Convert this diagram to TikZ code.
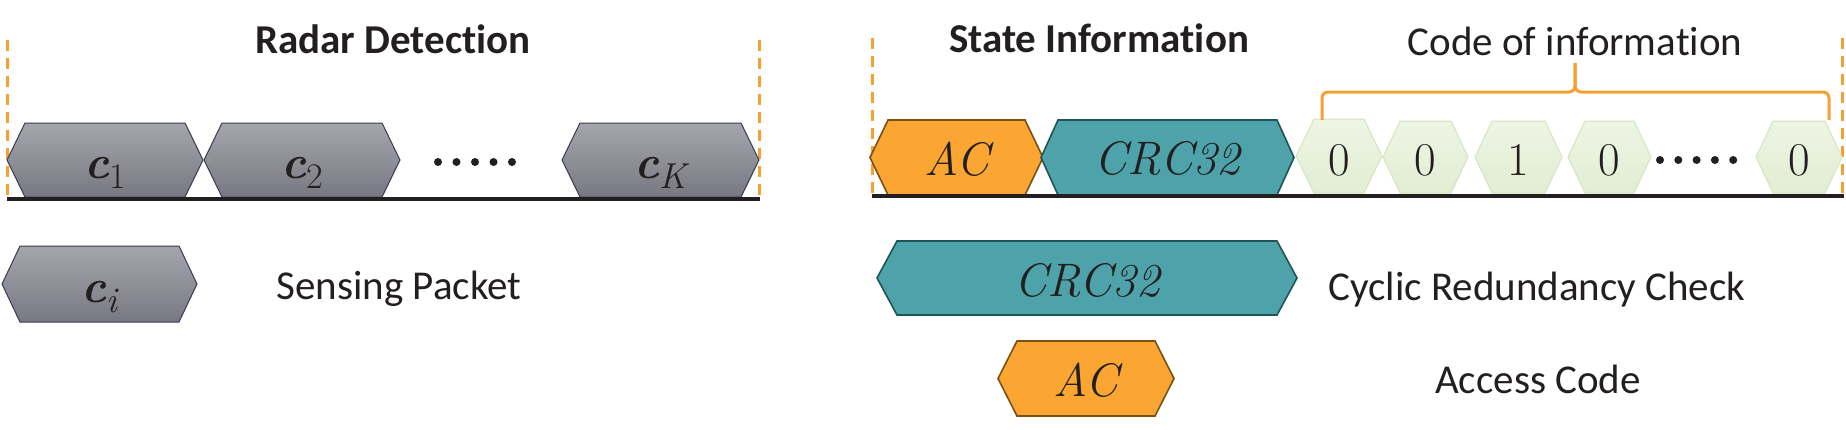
\documentclass[tikz,border=0pt]{standalone}
\usepackage{fontspec}
\setmainfont{Carlito}[Ligatures=NoCommon]
\newfontfamily\lmr{Latin Modern Roman}
\definecolor{grayTop}{HTML}{A5A6AC}
\definecolor{grayBot}{HTML}{787882}
\definecolor{grayBorder}{HTML}{3A3A55}
\definecolor{orangeFill}{HTML}{FBA532}
\definecolor{orangeBorder}{HTML}{7A5014}
\definecolor{tealFill}{HTML}{4EA2A9}
\definecolor{tealBorder}{HTML}{1F5556}
\definecolor{greenTop}{HTML}{EEF5E4}
\definecolor{greenBot}{HTML}{E2EDD3}
\definecolor{greenBorder}{HTML}{D3E5BE}
\definecolor{dashOrange}{HTML}{F7A030}
\definecolor{groundCol}{HTML}{231F20}
\definecolor{textCol}{HTML}{231F20}
\newcommand{\hexnode}[9]{%
  \path[#2] (#3,{(#5+#6)/2}) -- ({#3+#7},#5) -- ({#4-#7},#5) -- (#4,{(#5+#6)/2}) -- ({#4-#7},#6) -- ({#3+#7},#6) -- cycle;
  \node[lbl] (#1) at ({(#3+#4)/2},#8) {#9};
}
\newcommand{\vecsub}[2]{{\bfseries\itshape c}\raisebox{-10pt}{\fontsize{36}{40}\selectfont #1#2}}
\tikzset{
  hexgray/.style={draw=grayBorder, line width=1pt, top color=grayTop, bottom color=grayBot},
  hexorange/.style={draw=orangeBorder, line width=1.6pt, fill=orangeFill},
  hexteal/.style={draw=tealBorder, line width=1.6pt, fill=tealFill},
  hexgreen/.style={draw=greenBorder, line width=1pt, top color=greenTop, bottom color=greenBot},
  lbl/.style={inner sep=0pt, anchor=base, text=textCol, font=\lmr\fontsize{47}{52}\selectfont},
  titletext/.style={inner sep=0pt, anchor=base, text=textCol, font=\fontsize{41}{48}\selectfont\bfseries},
  desctext/.style={inner sep=0pt, anchor=base, text=textCol, font=\fontsize{41}{48}\selectfont},
  guide/.style={draw=dashOrange, line width=3pt, dash pattern=on 11pt off 7pt},
  ground/.style={draw=groundCol, line width=4pt},
  bracepath/.style={draw=dashOrange, line width=3pt, rounded corners=6pt},
  dotmark/.style={fill=groundCol},
}
\begin{document}
\begin{tikzpicture}[x=1pt,y=-1pt]
\useasboundingbox (0,0) rectangle (1846,429);
% titles
\node[titletext] (rd) at (393,53) {Radar Detection};
\node[titletext] (si) at (1099,52) {State Information};
\node[desctext] (coi) at (1575,55) {Code of information};
% guides
\coordinate (gl1) at (7,40);  \coordinate (gl2) at (7,198);
\coordinate (gr1) at (759,40); \coordinate (gr2) at (759,198);
\coordinate (hl1) at (872,38); \coordinate (hl2) at (872,195);
\coordinate (hr1) at (1842,38); \coordinate (hr2) at (1842,195);
\draw[guide] (gl1) -- (gl2);
\draw[guide] (gr1) -- (gr2);
\draw[guide] (hl1) -- (hl2);
\draw[guide] (hr1) -- (hr2);
% hexagons, left panel
\hexnode{c1}{hexgray}{7}{203}{123}{197}{18}{178}{\vecsub{}{1}}
\hexnode{c2}{hexgray}{204}{400}{123}{197}{18}{178}{\vecsub{}{2}}
\hexnode{cK}{hexgray}{562}{759}{123}{197}{18}{178}{\vecsub{\itshape}{K}}
\foreach \i in {0,...,4} \fill[dotmark] (438+18.5*\i,162) circle[radius=4pt];
% hexagons, right panel
\hexnode{ac}{hexorange}{870}{1043}{120}{195}{18}{175}{\itshape AC}
\hexnode{crc}{hexteal}{1041}{1294}{120}{195}{17}{174}{\itshape CRC32}
\hexnode{g1}{hexgreen}{1296}{1382}{119}{193}{18}{175}{0}
\hexnode{g2}{hexgreen}{1383}{1468}{121}{193}{17}{175}{0}
\hexnode{g3}{hexgreen}{1475}{1562}{121}{193}{17}{175}{1}
\hexnode{g4}{hexgreen}{1568}{1651}{121}{193}{17}{175}{0}
\hexnode{g5}{hexgreen}{1756}{1842}{121}{193}{17}{175}{0}
\foreach \i in {0,...,4} \fill[dotmark] (1660+18.3*\i,160) circle[radius=4pt];
% ground lines
\coordinate (b1) at (7,199); \coordinate (b2) at (760,199);
\coordinate (b3) at (872,196); \coordinate (b4) at (1844,196);
\draw[ground] (b1) -- (b2);
\draw[ground] (b3) -- (b4);
% brace
\coordinate (brL) at (1322,120); \coordinate (brM) at (1575,92);
\coordinate (brR) at (1829,120); \coordinate (brT) at (1575,63);
\draw[bracepath] (brL) |- (brM) -- (brT);
\draw[bracepath] (brR) |- (brM) -- (brT);
% legend
\hexnode{ci}{hexgray}{2}{197}{246}{322}{18}{302}{\vecsub{\itshape}{i}}
\node[desctext] (sp) at (399,299) {Sensing Packet};
\hexnode{crcb}{hexteal}{877}{1297}{241}{315}{20}{296}{\itshape CRC32}
\node[desctext] (crcd) at (1537,300) {Cyclic Redundancy Check};
\hexnode{acb}{hexorange}{998}{1174}{341}{416}{19}{396}{\itshape AC}
\node[desctext] (acd) at (1538,393) {Access Code};
\end{tikzpicture}
\end{document}
